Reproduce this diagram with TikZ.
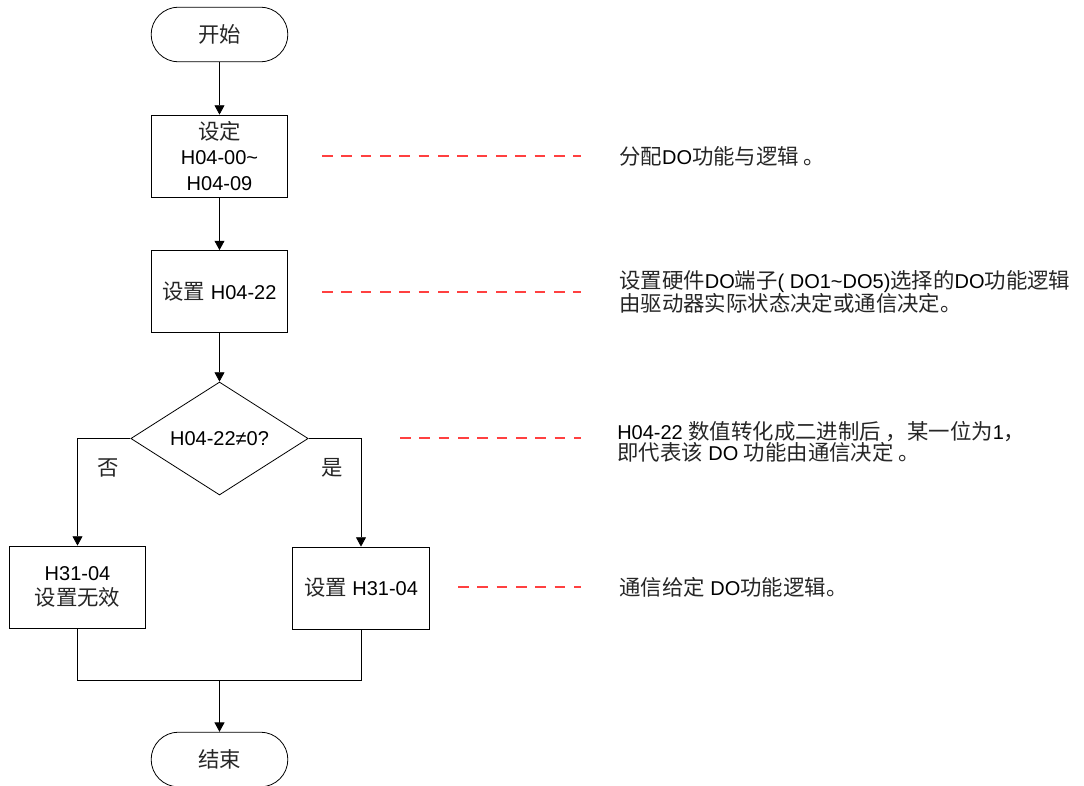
\documentclass[tikz,border=0pt]{standalone}
\usepackage{fontspec}
\setmainfont{Liberation Sans}
\newfontfamily\cjk[Scale=1.07]{Noto Sans CJK SC}
\newcommand{\zh}[1]{{\cjk\color{black!85}#1}}
\usetikzlibrary{positioning,arrows.meta,shapes.geometric}

\begin{document}
\begin{tikzpicture}[
    x=0.75pt, y=-0.75pt,
    font=\fontsize{15pt}{19pt}\selectfont,
    flow_box/.style={draw, line width=0.6pt, minimum width=102.5pt, minimum height=61.5pt, inner sep=2pt, align=center},
    term_box/.style={flow_box, minimum height=41pt, rounded corners=20.5pt},
    dec_box/.style={draw, diamond, line width=0.6pt, minimum width=133pt, minimum height=80pt, inner sep=0pt},
    note/.style={anchor=west, inner sep=0pt, align=left, font=\fontsize{15pt}{16.2pt}\selectfont},
    line/.style={line width=0.6pt},
    arrow/.style={line, -{Triangle[length=7pt,width=7.5pt]}},
    dash_line/.style={draw=red!75, line width=0.8pt, dash pattern=on 8pt off 6.5pt}
]
\useasboundingbox (0,0) rectangle (1084,785);

% flow
\node (start) [term_box] at (219.5,34.5) {\zh{开始}};
\node (setdo) [flow_box] at (219.5,156) {\zh{设定}\\H04-00\textasciitilde\\H04-09};
\node (setvd) [flow_box] at (219.5,291.5) {\zh{设置} H04-22};
\node (check) [dec_box] at (219.5,438.5) {H04-22≠0?};
\node (noset) [flow_box] at (77.5,587) {H31-04\\\zh{设置无效}};
\node (setcm) [flow_box] at (361,588) {\zh{设置} H31-04};
\node (stop) [term_box] at (219.5,759.5) {\zh{结束}};
\coordinate (merge) at (219.5,680.5);

\draw [arrow] (start) -- (setdo);
\draw [arrow] (setdo) -- (setvd);
\draw [arrow] (setvd) -- (check);
\draw [arrow] (check.west) -| (noset.north);
\draw [arrow] (check.east) -| (setcm.north);
\draw [line] (noset.south) |- (merge) -| (setcm.south);
\draw [arrow] (merge) -- (stop);

\node (no) at (108,468) {\zh{否}};
\node (yes) at (332,468) {\zh{是}};

% notes
\node (note1) [note] at (619,156) {\zh{分配}DO\zh{功能与逻辑 。}};
\node (note2) [note] at (619,292) {\zh{设置硬件}DO\zh{端子}( DO1\textasciitilde DO5)\zh{选择的}DO\zh{功能逻辑}\\\zh{由驱动器实际状态决定或通信决定。}};
\node (note3) [note] at (617,442) {H04-22 \zh{数值转化成二进制后 ，某一位为}1\zh{，}\\\zh{即代表该} DO \zh{功能由通信决定 。}};
\node (note4) [note] at (619,587) {\zh{通信给定} DO\zh{功能逻辑。}};

\coordinate (d1a) at (322,156);  \coordinate (d1b) at (581,156);
\coordinate (d2a) at (322,292);  \coordinate (d2b) at (581,292);
\coordinate (d3a) at (400,438);  \coordinate (d3b) at (581,438);
\coordinate (d4a) at (458,587);  \coordinate (d4b) at (581,587);
\draw [dash_line] (d1a) -- (d1b);
\draw [dash_line] (d2a) -- (d2b);
\draw [dash_line] (d3a) -- (d3b);
\draw [dash_line] (d4a) -- (d4b);

\end{tikzpicture}
\end{document}
